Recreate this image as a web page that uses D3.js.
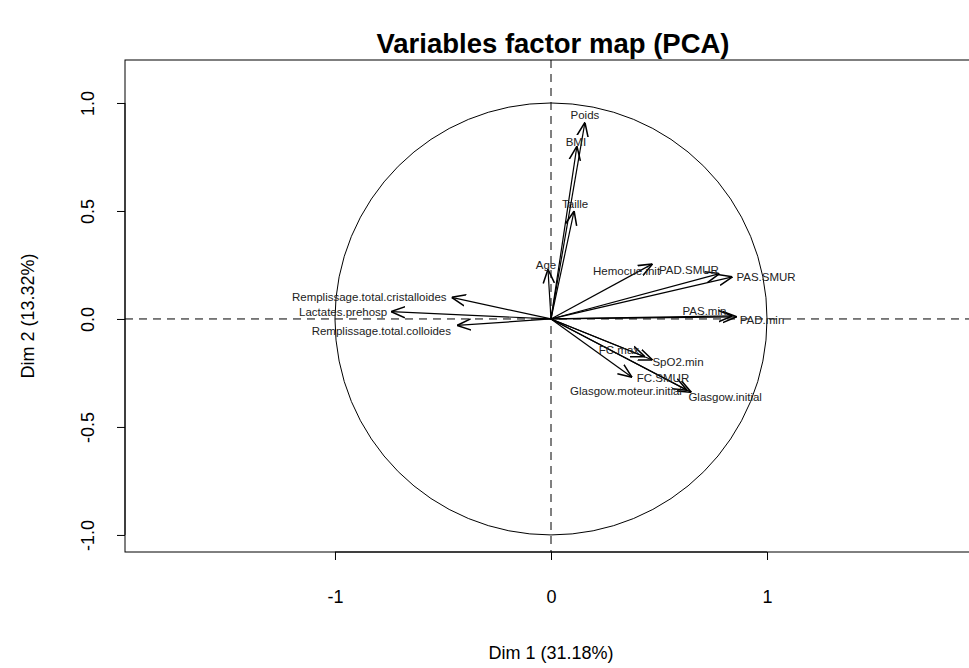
<!DOCTYPE html><html><head><meta charset="utf-8">
<script src="https://cdn.jsdelivr.net/npm/d3@7"></script>
<style>body{margin:0;background:#fff}text{font-family:"Liberation Sans",Arial,sans-serif}</style></head><body>
<svg id="c" width="969" height="668"></svg>
<script>
const variables=["Poids","BMI","Taille","Age","Hemocue.init","PAD.SMUR","PAS.SMUR","PAS.min","PAD.min","FC.max","SpO2.min","FC.SMUR","Glasgow.moteur.initial","Glasgow.initial","Remplissage.total.cristalloides","Lactates.prehosp","Remplissage.total.colloides"];
const dim1=[0.157,0.12,0.107,-0.014,0.47,0.78,0.84,0.84,0.86,0.435,0.47,0.63,0.375,0.65,-0.46,-0.74,-0.435];
const dim2=[0.91,0.80,0.50,0.23,0.255,0.21,0.195,0.014,0.01,-0.175,-0.19,-0.33,-0.27,-0.34,0.10,0.034,-0.03];
const xTicks=[-1,0,1], yTicks=[-1,-0.5,0,0.5,1];
const lab={"Poids":[0,-3,"middle"],"BMI":[-1,0,"middle"],"Taille":[1,-3,"middle"],"Age":[-2,0,"middle"],
"Hemocue.init":[-26,11,"middle"],"PAD.SMUR":[0,1,"start",659,274],"PAS.SMUR":[4,4,"start"],"PAS.min":[-28,-1,"middle"],
"PAD.min":[3,7,"start"],"FC.max":[-26,-3,"middle"],"SpO2.min":[0,0,"middle",678,366],"FC.SMUR":[0,0,"middle",663,382],
"Glasgow.moteur.initial":[-6,18,"middle"],"Glasgow.initial":[-3,9,"start"],"Remplissage.total.cristalloides":[-5,4,"end"],
"Lactates.prehosp":[-48,4,"middle"],"Remplissage.total.colloides":[-6,10,"end"]};
const svg=d3.select("#c");
const L=125,R=977,T=60,B=552;
const x=d3.scaleLinear().domain([-1.972,1.972]).range([L,R]);
const y=d3.scaleLinear().domain([-1.079,1.199]).range([B,T]);
svg.append("defs").append("marker").attr("id","ah").attr("viewBox","0 0 10 10").attr("refX",10).attr("refY",5)
 .attr("markerWidth",14).attr("markerHeight",14).attr("markerUnits","userSpaceOnUse").attr("orient","auto")
 .append("path").attr("d","M0,1 L10,5 L0,9").attr("fill","none").attr("stroke","#000").attr("stroke-width",1.1);
svg.append("text").attr("x",553).attr("y",53).attr("text-anchor","middle").attr("font-size",27.5).attr("font-weight","bold").text("Variables factor map (PCA)");
svg.append("rect").attr("x",L).attr("y",T).attr("width",R-L).attr("height",B-T).attr("fill","none").attr("stroke","#000");
const fmt=d=>String(d);
const gx=svg.append("g").attr("transform",`translate(0,${B})`).call(d3.axisBottom(x).tickValues(xTicks).tickSize(8).tickPadding(30).tickFormat(fmt));
gx.select(".domain").attr("d",`M${x(-1)},0H${x(1)}`);
gx.selectAll("text").attr("font-size",18).attr("font-family","Liberation Sans, Arial");
const gy=svg.append("g").attr("transform",`translate(${L},0)`).call(d3.axisLeft(y).tickValues(yTicks).tickSize(8).tickFormat(d=>d3.format(".1f")(d).replace("−","-")));
gy.select(".domain").attr("d",`M0,${y(-1)}V${y(1)}`);
gy.selectAll("text").attr("font-size",18).attr("font-family","Liberation Sans, Arial").attr("text-anchor","middle")
 .attr("transform","rotate(-90)").attr("x",0).attr("y",-31).attr("dy",0);
svg.append("text").attr("x",551).attr("y",659).attr("text-anchor","middle").attr("font-size",18).text("Dim 1 (31.18%)");
svg.append("text").attr("transform","translate(34,316) rotate(-90)").attr("text-anchor","middle").attr("font-size",18).text("Dim 2 (13.32%)");
svg.append("line").attr("x1",L).attr("x2",R).attr("y1",y(0)).attr("y2",y(0)).attr("stroke","#000").attr("stroke-dasharray","8,6");
svg.append("line").attr("x1",x(0)).attr("x2",x(0)).attr("y1",T).attr("y2",B).attr("stroke","#000").attr("stroke-dasharray","8,6");
svg.append("ellipse").attr("cx",x(0)).attr("cy",y(0)).attr("rx",x(1)-x(0)).attr("ry",y(0)-y(1)).attr("fill","none").attr("stroke","#000");
variables.forEach((v,i)=>{
 svg.append("line").attr("x1",x(0)).attr("y1",y(0)).attr("x2",x(dim1[i])).attr("y2",y(dim2[i])).attr("stroke","#000").attr("stroke-width",1.2).attr("marker-end","url(#ah)");
});
variables.forEach((v,i)=>{
 const o=lab[v];const px=o.length>3?o[3]:x(dim1[i])+o[0];const py=o.length>3?o[4]:y(dim2[i])+o[1];
 svg.append("text").attr("x",px).attr("y",py).attr("text-anchor",o[2]).attr("font-size",11.5).attr("fill","#222").text(v);
});
</script></body></html>
